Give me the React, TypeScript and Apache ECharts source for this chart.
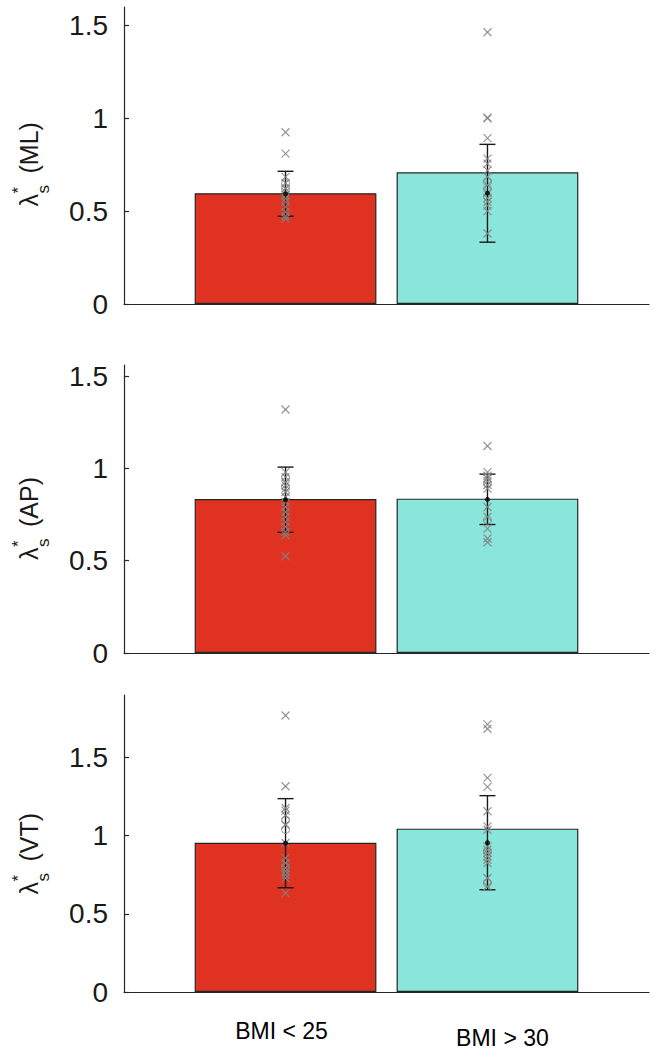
import React, { useEffect, useRef } from 'react';
import * as echarts from 'echarts';

// ---------- data ----------
const groups = ['BMI < 25', 'BMI > 30'];
const panelNames = ['ML', 'AP', 'VT'];
const yMaxes = [1.6, 1.56, 1.9];
const yTickValues = [0, 0.5, 1, 1.5];

const barML = [0.597, 0.71];
const barAP = [0.834, 0.836];
const barVT = [0.955, 1.045];

// [low, high] per group
const errML = [[0.473, 0.715], [0.333, 0.86]];
const errAP = [[0.654, 1.007], [0.696, 0.969]];
const errVT = [[0.667, 1.237], [0.654, 1.256]];

const dotML = [0.594, 0.597];
const dotAP = [0.83, 0.832];
const dotVT = [0.952, 0.955];

const crossML_lean = [0.925, 0.81, 0.685, 0.652, 0.622, 0.604, 0.586, 0.568, 0.55, 0.523, 0.496, 0.473, 0.46];
const crossML_obese = [1.464, 1.004, 1.0, 0.894, 0.783, 0.756, 0.72, 0.685, 0.64, 0.6, 0.57, 0.55, 0.53, 0.5, 0.38];
const circML_lean = [0.649, 0.62];
const circML_obese = [0.66, 0.62, 0.58];

const crossAP_lean = [1.319, 0.98, 0.953, 0.926, 0.908, 0.89, 0.872, 0.845, 0.818, 0.791, 0.764, 0.737, 0.71, 0.683, 0.656, 0.638, 0.524];
const crossAP_obese = [1.121, 0.98, 0.96, 0.945, 0.93, 0.91, 0.89, 0.791, 0.737, 0.674, 0.62, 0.6];
const circAP_lean = [0.95, 0.9];
const circAP_obese = [0.92, 0.72];

const crossVT_lean = [1.769, 1.316, 1.177, 1.16, 1.13, 1.07, 0.953, 0.857, 0.825, 0.793, 0.771, 0.75, 0.729, 0.633];
const crossVT_obese = [1.712, 1.684, 1.37, 1.312, 1.156, 1.06, 1.038, 0.932, 0.91, 0.889, 0.868, 0.846, 0.825, 0.729, 0.675];
const circVT_lean = [1.1, 1.04, 0.8];
const circVT_obese = [0.9, 0.697];

// ---------- style ----------
const W = 660;
const H = 1050;
const gridLeft = 124;
const gridRight = 11;
const gridTops = [7, 365, 695];
const gridHeights = [297, 288, 297];
const barColors = ['#E03221', '#8AE6DA'];
const axisColor = '#262626';
const markerGray = 'rgba(130,130,130,0.85)';
const FONT = '"Liberation Sans", Arial, Helvetica, sans-serif';

const panels = [
  { bar: barML, err: errML, dot: dotML, cross: [crossML_lean, crossML_obese], circ: [circML_lean, circML_obese] },
  { bar: barAP, err: errAP, dot: dotAP, cross: [crossAP_lean, crossAP_obese], circ: [circAP_lean, circAP_obese] },
  { bar: barVT, err: errVT, dot: dotVT, cross: [crossVT_lean, crossVT_obese], circ: [circVT_lean, circVT_obese] },
];

function buildOption() {
  const gridWidth = W - gridLeft - gridRight;
  const barWidth = (gridWidth / 2.6) * 0.9;

  const grid: any[] = [];
  const xAxis: any[] = [];
  const yAxis: any[] = [];
  const series: any[] = [];
  const graphic: any[] = [];

  panels.forEach((p, i) => {
    const isLast = i === panels.length - 1;
    grid.push({ left: gridLeft, right: gridRight, top: gridTops[i], height: gridHeights[i], containLabel: false });
    xAxis.push({
      type: 'value',
      gridIndex: i,
      min: 0.2,
      max: 2.8,
      splitLine: { show: false },
      axisLine: { show: true, onZero: false, lineStyle: { color: axisColor, width: 1.2 } },
      axisTick: { show: true, inside: true, length: 5, customValues: [1, 2], lineStyle: { color: axisColor, width: 1.2 } },
      axisLabel: {
        show: isLast,
        customValues: [1, 2],
        margin: 27,
        fontFamily: FONT,
        fontSize: 23,
        color: '#000',
        formatter: (v: number) => (v === 1 ? '{a|' + groups[0] + '}' : v === 2 ? '{b|' + groups[1] + '}' : ''),
        rich: {
          a: { fontFamily: FONT, fontSize: 23, color: '#000', padding: [0, 8, 0, 0] },
          b: { fontFamily: FONT, fontSize: 23, color: '#000', padding: [7, 0, 0, 30] },
        },
      },
    });
    yAxis.push({
      type: 'value',
      gridIndex: i,
      min: 0,
      max: yMaxes[i],
      splitLine: { show: false },
      axisLine: { show: true, lineStyle: { color: axisColor, width: 1.2 } },
      axisTick: { show: true, inside: true, length: 5, customValues: yTickValues, lineStyle: { color: axisColor, width: 1.2 } },
      axisLabel: {
        customValues: yTickValues,
        margin: 16,
        fontFamily: FONT,
        fontSize: 28,
        color: '#1a1a1a',
        formatter: (v: number) => String(v),
      },
    });

    series.push({
      type: 'bar',
      xAxisIndex: i,
      yAxisIndex: i,
      barWidth,
      z: 2,
      itemStyle: { borderColor: axisColor, borderWidth: 1.2 },
      data: p.bar.map((v, g) => ({ value: [g + 1, v], itemStyle: { color: barColors[g] } })),
    });

    series.push({
      type: 'custom',
      xAxisIndex: i,
      yAxisIndex: i,
      z: 3,
      clip: false,
      encode: { x: 0, y: [1, 2] },
      data: p.err.map((e, g) => [g + 1, e[0], e[1]]),
      renderItem: (params: any, api: any) => {
        const x = api.value(0);
        const lo = api.coord([x, api.value(1)]);
        const hi = api.coord([x, api.value(2)]);
        const cw = 8;
        const st = { stroke: '#1a1a1a', lineWidth: 1.4 };
        return {
          type: 'group',
          children: [
            { type: 'line', shape: { x1: lo[0], y1: lo[1], x2: hi[0], y2: hi[1] }, style: st },
            { type: 'line', shape: { x1: lo[0] - cw, y1: lo[1], x2: lo[0] + cw, y2: lo[1] }, style: st },
            { type: 'line', shape: { x1: hi[0] - cw, y1: hi[1], x2: hi[0] + cw, y2: hi[1] }, style: st },
          ],
        };
      },
    });

    const crossData: number[][] = [];
    p.cross.forEach((arr, g) => arr.forEach((v) => crossData.push([g + 1, v])));
    series.push({
      type: 'custom',
      xAxisIndex: i,
      yAxisIndex: i,
      z: 4,
      clip: false,
      encode: { x: 0, y: 1 },
      data: crossData,
      renderItem: (params: any, api: any) => {
        const c = api.coord([api.value(0), api.value(1)]);
        const s = 4;
        const st = { stroke: markerGray, lineWidth: 1.2 };
        return {
          type: 'group',
          children: [
            { type: 'line', shape: { x1: c[0] - s, y1: c[1] - s, x2: c[0] + s, y2: c[1] + s }, style: st },
            { type: 'line', shape: { x1: c[0] - s, y1: c[1] + s, x2: c[0] + s, y2: c[1] - s }, style: st },
          ],
        };
      },
    });

    const circData: number[][] = [];
    p.circ.forEach((arr, g) => arr.forEach((v) => circData.push([g + 1, v])));
    series.push({
      type: 'scatter',
      xAxisIndex: i,
      yAxisIndex: i,
      z: 4,
      symbol: 'circle',
      symbolSize: 8,
      itemStyle: { color: 'rgba(0,0,0,0)', borderColor: markerGray, borderWidth: 1.1 },
      data: circData,
    });

    series.push({
      type: 'scatter',
      xAxisIndex: i,
      yAxisIndex: i,
      z: 5,
      symbol: 'circle',
      symbolSize: 5,
      itemStyle: { color: '#000' },
      data: p.dot.map((v, g) => [g + 1, v]),
    });

    const cy = gridTops[i] + gridHeights[i] / 2 + 4;
    graphic.push({
      type: 'group',
      x: 29,
      y: cy,
      rotation: Math.PI / 2,
      children: [
        { type: 'text', x: -47, y: 0, style: { text: 'λ', font: '25px ' + FONT, fill: '#1a1a1a', align: 'left', verticalAlign: 'middle' } },
        { type: 'text', x: -34, y: -11, style: { text: '*', font: '17px ' + FONT, fill: '#1a1a1a', align: 'left', verticalAlign: 'middle' } },
        { type: 'text', x: -34, y: 14, style: { text: 's', font: '17px ' + FONT, fill: '#1a1a1a', align: 'left', verticalAlign: 'middle' } },
        { type: 'text', x: -14, y: 0, style: { text: '(' + panelNames[i] + ')', font: '25px ' + FONT, fill: '#1a1a1a', align: 'left', verticalAlign: 'middle' } },
      ],
    });
  });

  return { animation: false, backgroundColor: '#fff', grid, xAxis, yAxis, series, graphic };
}

export default function App() {
  const ref = useRef<HTMLDivElement>(null);
  useEffect(() => {
    document.body.style.margin = '0';
    if (!ref.current) return;
    const chart = echarts.init(ref.current, undefined, { renderer: 'svg' });
    chart.setOption(buildOption() as any);
    return () => chart.dispose();
  }, []);
  return <div ref={ref} style={{ width: W, height: H }} />;
}
